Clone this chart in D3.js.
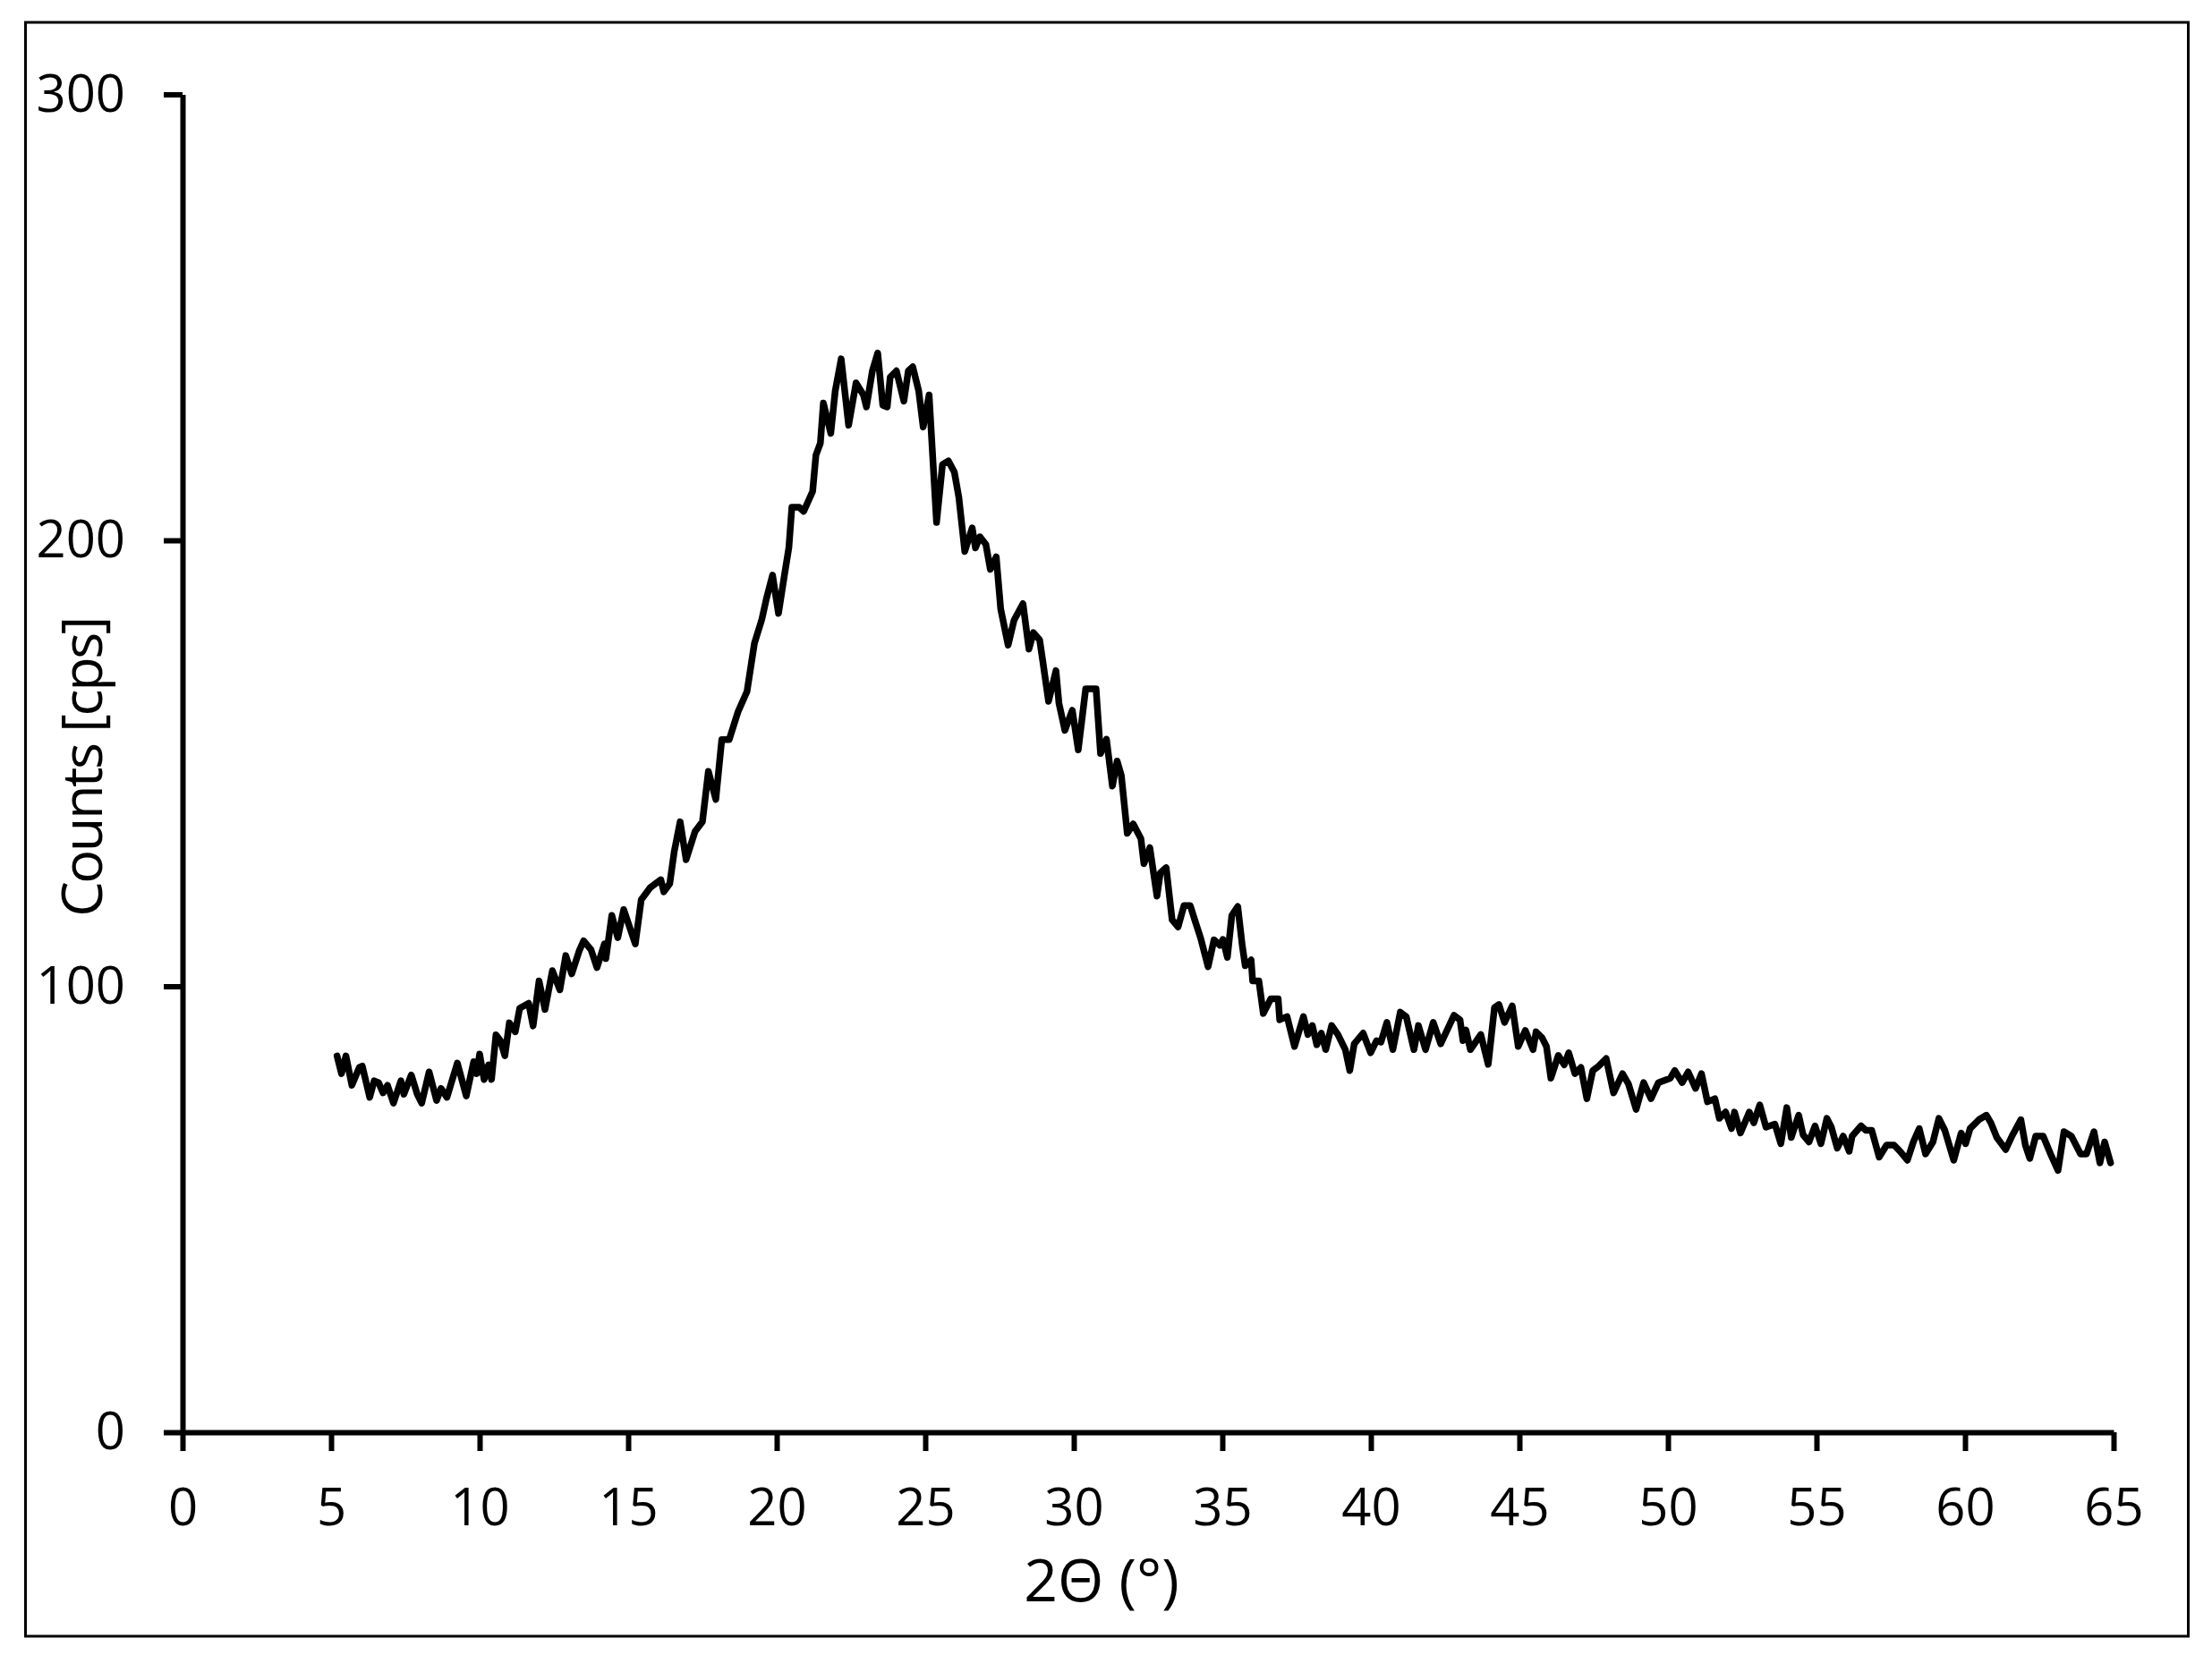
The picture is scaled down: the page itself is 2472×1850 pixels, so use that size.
<!DOCTYPE html>
<html>
<head>
<meta charset="utf-8">
<script src="https://cdn.jsdelivr.net/npm/d3@7"></script>
<style>
  html, body { margin: 0; padding: 0; background: #fff; }
  svg { display: block; }
  text { font-family: "Open Sans", "Noto Sans", sans-serif; fill: #000; }
</style>
</head>
<body>
<svg id="chart" width="2472" height="1850"></svg>
<script>
// 2-theta positions (degrees)
const twoTheta = [
  5.20, 5.35, 5.50, 5.70, 5.95, 6.05, 6.30, 6.45, 6.60, 6.75, 6.90, 7.10, 7.35, 7.45, 7.70, 7.90,
  8.05, 8.30, 8.55, 8.70, 8.90, 9.25, 9.55, 9.80, 9.90, 10.00, 10.15, 10.30, 10.40, 10.55, 10.70, 10.85,
  11.00, 11.20, 11.35, 11.65, 11.80, 12.00, 12.20, 12.45, 12.70, 12.90, 13.10, 13.35, 13.50, 13.75, 13.95, 14.20,
  14.25, 14.45, 14.65, 14.85,
  15.24, 15.44, 15.74, 16.10, 16.20, 16.40, 16.55, 16.75, 16.95, 17.25, 17.50, 17.70, 17.95, 18.15, 18.40, 18.70,
  19.00, 19.25, 19.50, 19.65, 19.86, 20.06, 20.26, 20.41, 20.51, 20.76, 20.91, 21.21, 21.32, 21.47, 21.57, 21.82,
  21.97, 22.17, 22.42, 22.67, 22.92, 23.02, 23.22, 23.40, 23.57, 23.72, 23.82, 24.03, 24.28, 24.43, 24.58, 24.78,
  24.93, 25.13,
  25.38, 25.58, 25.78, 25.98, 26.13, 26.33, 26.58, 26.69, 26.84, 27.04, 27.19, 27.39, 27.54, 27.79, 27.99, 28.29,
  28.49, 28.64, 28.85, 28.95, 29.15, 29.40, 29.50, 29.70, 29.95, 30.15, 30.40, 30.60, 30.75, 30.90, 31.10, 31.30,
  31.46, 31.60, 31.80, 32.00, 32.26, 32.36, 32.56, 32.80, 32.91, 33.11, 33.31, 33.51, 33.71, 33.92, 34.07, 34.27,
  34.52, 34.72, 34.92,
  35.02, 35.17, 35.32, 35.52, 35.67, 35.77, 35.97, 36.02, 36.23, 36.38, 36.63, 36.88, 36.93, 37.18, 37.43, 37.73,
  37.88, 38.03, 38.18, 38.33, 38.48, 38.68, 38.89, 39.14, 39.29, 39.44, 39.74, 39.99, 40.19, 40.34, 40.54, 40.74,
  40.99, 41.19, 41.45, 41.60, 41.84, 42.10, 42.35, 42.80, 43.00, 43.10, 43.20, 43.35, 43.70, 43.95, 44.16, 44.31,
  44.50, 44.76, 44.96,
  45.20, 45.46, 45.56, 45.76, 45.91, 46.06, 46.31, 46.51, 46.66, 46.87, 47.07, 47.27, 47.47, 47.67, 47.92, 48.17,
  48.47, 48.67, 48.93, 49.18, 49.43, 49.68, 50.08, 50.23, 50.48, 50.68, 50.93, 51.13, 51.33, 51.58, 51.73, 51.94,
  52.14, 52.24, 52.44, 52.74, 52.89, 53.09, 53.30, 53.60, 53.80, 54.00, 54.15, 54.40, 54.55,
  54.75, 54.95, 55.15, 55.35, 55.50, 55.70, 55.90, 56.10, 56.20, 56.50, 56.66, 56.86, 57.11, 57.36, 57.61, 57.81,
  58.06, 58.26, 58.46, 58.67, 58.92, 59.12, 59.32, 59.62, 59.87, 60.02, 60.17, 60.47, 60.72, 60.87, 61.07, 61.37,
  61.58, 61.88, 62.03, 62.18, 62.38, 62.63, 62.88, 63.13, 63.33, 63.58, 63.89, 64.09, 64.34, 64.54, 64.70, 64.90
];

// counts per second at each 2-theta position
const counts = [
  84.4, 80.4, 84.4, 77.8, 81.8, 82.1, 75.1, 78.8, 78.4, 76.1, 77.8, 73.8, 78.8, 75.8, 80.1, 75.8,
  73.8, 80.8, 74.4, 77.1, 75.1, 82.8, 75.4, 83.1, 80.4, 84.8, 79.1, 82.4, 79.1, 89.1, 87.8, 84.4,
  91.8, 89.8, 95.1, 96.2, 91.1, 101.2, 94.8, 103.5, 99.2, 106.9, 102.8, 107.9, 110.2, 108.2, 104.2, 109.5,
  106.2, 115.9, 110.9, 117.2,
  109.5, 119.4, 122.1, 123.9, 121.2, 123.0, 130.2, 136.9, 128.4, 134.7, 136.9, 148.2, 141.9, 155.3, 155.3, 161.6,
  166.1, 176.9, 182.3, 186.8, 192.2, 183.6, 192.2, 198.4, 207.4, 207.4, 206.5, 211.0, 219.1, 221.8, 230.8, 224.0,
  233.5, 240.7, 225.8, 235.3, 232.6, 229.9, 238.0, 242.0, 230.3, 229.9, 236.6, 238.0, 231.2, 238.0, 238.9, 233.5,
  225.4, 232.6,
  204.0, 217.0, 217.8, 215.3, 209.7, 197.5, 202.8, 198.3, 200.8, 199.1, 193.5, 196.3, 184.6, 176.5, 182.1, 185.8,
  175.6, 179.3, 177.7, 173.2, 163.9, 170.8, 163.5, 157.4, 161.9, 153.0, 166.7, 166.7, 166.7, 152.2, 155.4, 144.9,
  150.5, 147.3, 134.3, 136.4, 133.1, 127.5, 131.1, 120.2, 125.4, 126.6, 114.9, 113.3, 118.1, 118.1, 114.9, 110.8,
  104.4, 110.4, 109.2,
  110.5, 106.5, 115.9, 117.9, 109.2, 104.6, 105.9, 101.2, 101.2, 93.9, 97.2, 97.2, 92.5, 93.2, 86.5, 93.2,
  89.2, 91.2, 86.9, 89.5, 85.8, 91.2, 89.2, 85.8, 81.1, 87.1, 89.5, 85.1, 87.8, 87.5, 91.9, 85.8,
  94.2, 93.2, 85.8, 91.2, 85.8, 91.9, 87.1, 93.5, 92.5, 87.8, 90.2, 85.8, 89.2, 82.5, 95.2, 95.9,
  91.9, 95.6, 86.5,
  90.1, 85.8, 89.8, 88.5, 86.5, 79.4, 84.5, 82.4, 85.1, 80.4, 81.8, 74.8, 81.1, 82.1, 83.8, 76.1,
  80.4, 78.1, 72.4, 78.4, 74.8, 78.4, 79.4, 81.1, 78.4, 80.8, 77.1, 80.4, 74.1, 74.8, 70.4, 71.8,
  68.1, 71.8, 67.1, 71.8, 69.4, 73.4, 68.4, 69.1, 64.7, 72.8, 66.1, 71.1, 66.7,
  65.1, 68.7, 64.7, 70.4, 68.4, 63.7, 66.4, 63.0, 66.4, 68.7, 67.7, 67.7, 61.7, 64.4, 64.4, 63.0,
  61.0, 65.1, 68.1, 62.4, 65.1, 70.4, 67.7, 61.0, 67.1, 64.7, 68.1, 70.1, 71.1, 69.4, 66.1, 63.4,
  66.4, 70.1, 64.4, 61.4, 66.4, 66.4, 62.4, 58.7, 67.4, 66.4, 62.4, 62.4, 67.4, 60.4, 65.1, 60.4
];

const xTicks = [0, 5, 10, 15, 20, 25, 30, 35, 40, 45, 50, 55, 60, 65];
const yTicks = [0, 100, 200, 300];
const xTitle = "2\u0398 (\u00b0)";
const yTitle = "Counts [cps]";

const svg = d3.select("#chart");

// outer chart border
svg.append("rect")
  .attr("x", 28.5).attr("y", 25)
  .attr("width", 2417).attr("height", 1804)
  .attr("fill", "none")
  .attr("stroke", "#000")
  .attr("stroke-width", 3);

const x = d3.scaleLinear().domain([0, 65]).range([204, 2362]);
const y = d3.scaleLinear().domain([0, 300]).range([1601, 105.5]);

/**
 * Apply the heavy black axis style
 * @param {Object} g - D3 selection holding an axis
 */
function styleAxis(g) {
  g.select(".domain").attr("stroke", "#000").attr("stroke-width", 6);
  g.selectAll(".tick line").attr("stroke", "#000").attr("stroke-width", 6);
  g.selectAll(".tick text")
    .attr("font-size", 58)
    .attr("font-family", "'Open Sans', 'Noto Sans', sans-serif")
    .attr("fill", "#000");
}

svg.append("g")
  .attr("transform", `translate(0,${y(0)})`)
  .call(d3.axisBottom(x).tickValues(xTicks).tickFormat(d3.format("d"))
    .tickSize(21).tickSizeOuter(0).tickPadding(42))
  .call(styleAxis);

svg.append("g")
  .attr("transform", `translate(${x(0)},0)`)
  .call(d3.axisLeft(y).tickValues(yTicks).tickFormat(d3.format("d"))
    .tickSize(21).tickSizeOuter(0).tickPadding(43))
  .call(styleAxis);

// axis titles
svg.append("text")
  .attr("x", 1231).attr("y", 1790)
  .attr("text-anchor", "middle")
  .attr("font-size", 66)
  .text(xTitle);

svg.append("text")
  .attr("transform", "translate(114,858) rotate(-90)")
  .attr("text-anchor", "middle")
  .attr("font-size", 63)
  .attr("letter-spacing", -2.5)
  .text(yTitle);

// the diffraction pattern
const line = d3.line()
  .x(d => x(d[0]))
  .y(d => y(d[1]));

svg.append("path")
  .datum(d3.zip(twoTheta, counts))
  .attr("fill", "none")
  .attr("stroke", "#000")
  .attr("stroke-width", 7.5)
  .attr("stroke-linejoin", "round")
  .attr("stroke-linecap", "round")
  .attr("d", line);
</script>
</body>
</html>
